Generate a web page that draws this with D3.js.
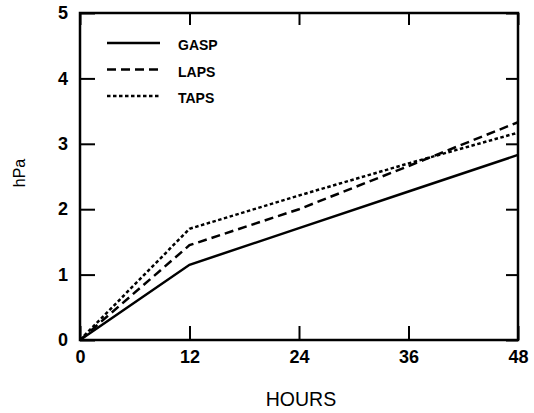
<!DOCTYPE html>
<html>
<head>
<meta charset="utf-8">
<script src="https://cdn.jsdelivr.net/npm/d3@7"></script>
<style>
  body { margin: 0; background: #fff; }
  text { font-family: "Liberation Sans", Arial, sans-serif; fill: #000; }
</style>
</head>
<body>
<div id="canvas"></div>
<script>
// data
const hours = [0, 12, 24, 36, 48];
const gasp = [0, 1.15, 1.71, 2.27, 2.83];
const laps = [0, 1.45, 2.0, 2.66, 3.33];
const taps = [0, 1.70, 2.21, 2.70, 3.17];
const xTicks = [0, 12, 24, 36, 48];
const yTicks = [0, 1, 2, 3, 4, 5];
const seriesNames = ["GASP", "LAPS", "TAPS"];

const width = 534, height = 413;
const margin = { top: 13, left: 80, bottom: 73, right: 16 };
const iwidth = width - margin.left - margin.right;
const iheight = height - margin.top - margin.bottom;

const svg = d3.select("#canvas").append("svg")
  .attr("width", width)
  .attr("height", height);

const g = svg.append("g").attr("transform", `translate(${margin.left},${margin.top})`);

const x = d3.scaleLinear().domain([0, 48]).range([0, iwidth]);
const y = d3.scaleLinear().domain([0, 5]).range([iheight, 0]);

// ticks pointing inward on all four sides
g.append("g")
  .attr("transform", `translate(0,${iheight})`)
  .call(d3.axisBottom(x).tickValues(xTicks).tickSizeInner(-14).tickSizeOuter(0).tickPadding(10))
  .call(a => a.selectAll("text").attr("font-size", 18).attr("font-weight", "bold"));
g.append("g")
  .call(d3.axisTop(x).tickValues(xTicks).tickSizeInner(-12).tickSizeOuter(0).tickFormat(""));
g.append("g")
  .call(d3.axisLeft(y).tickValues(yTicks).tickSizeInner(-15).tickSizeOuter(0).tickPadding(12).tickFormat(d3.format("d")))
  .call(a => a.selectAll("text").attr("font-size", 18).attr("font-weight", "bold"));
g.append("g")
  .attr("transform", `translate(${iwidth},0)`)
  .call(d3.axisRight(y).tickValues(yTicks).tickSizeInner(-12).tickSizeOuter(0).tickFormat(""));

g.selectAll(".tick line").attr("stroke", "#000").attr("stroke-width", 2);
g.selectAll(".domain").remove();

g.append("rect")
  .attr("width", iwidth).attr("height", iheight)
  .attr("fill", "none").attr("stroke", "#000").attr("stroke-width", 2.5);

const series = [
  { name: seriesNames[0], values: gasp, dash: null },
  { name: seriesNames[1], values: laps, dash: "9,5" },
  { name: seriesNames[2], values: taps, dash: "3.5,2.5" }
];

const line = d3.line()
  .x((d, i) => x(hours[i]))
  .y(d => y(d));

g.selectAll(".series").data(series).enter().append("path")
  .attr("class", "series")
  .attr("d", d => line(d.values))
  .attr("fill", "none")
  .attr("stroke", "#000")
  .attr("stroke-width", 2.5)
  .attr("stroke-dasharray", d => d.dash);

// legend
const legend = g.append("g").attr("transform", "translate(27,30)");
const rows = legend.selectAll("g").data(series).enter().append("g")
  .attr("transform", (d, i) => `translate(0,${i * 26.5})`);
rows.append("line")
  .attr("x1", 0).attr("x2", 53)
  .attr("stroke", "#000").attr("stroke-width", 2.5)
  .attr("stroke-dasharray", d => d.dash);
rows.append("text")
  .attr("x", 71).attr("y", 7)
  .attr("font-size", 14).attr("font-weight", "bold")
  .text(d => d.name);

// axis titles
svg.append("text")
  .attr("x", 301).attr("y", 406)
  .attr("text-anchor", "middle").attr("font-size", 19.5)
  .text("HOURS");
svg.append("text")
  .attr("transform", "translate(25,173) rotate(-90)")
  .attr("text-anchor", "middle").attr("font-size", 16)
  .text("hPa");
</script>
</body>
</html>
